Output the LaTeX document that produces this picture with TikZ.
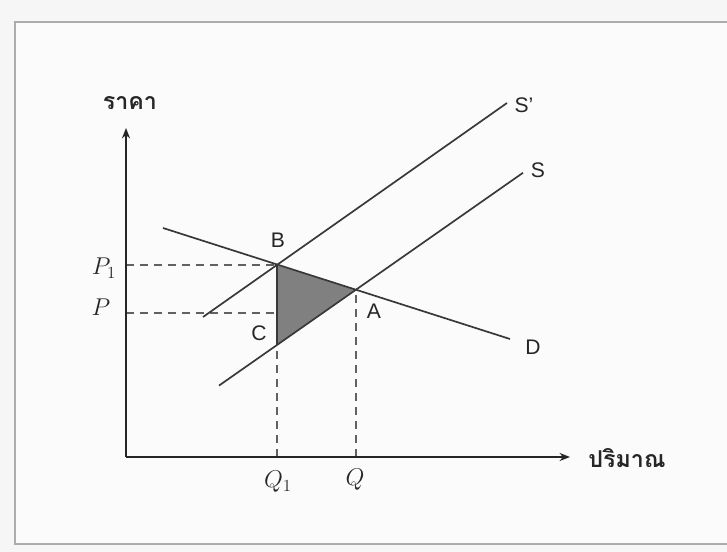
\documentclass[tikz,border=0pt]{standalone}
\usepackage{fontspec}
\setsansfont{Liberation Sans}
\newfontfamily\thaifont[Script=Thai]{Loma}
\usetikzlibrary{arrows.meta}

\begin{document}
\begin{tikzpicture}[
axis/.style={-{Stealth[length=2.6mm,width=2mm]}, line width=1.5pt, draw=black!85},
curve/.style={line width=1.2pt, draw=black!78},
guide/.style={dash pattern=on 0.2cm off 0.15cm, line width=1.1pt, draw=black!62},
pt/.style={font=\sffamily\fontsize{15}{17}\selectfont, text=black!85},
val/.style={font=\fontsize{18}{20}\selectfont, text=black!85},
thai/.style={font=\thaifont\bfseries\fontsize{16.5}{18}\selectfont, text=black!85}
]
\useasboundingbox[fill=gray!7] (-3.15,-2.375) rectangle (15.025,11.425);
\draw[gray!65, line width=1.5pt, fill=gray!3] (-2.775,-2.175) rectangle (15.6,10.875);

% points
\coordinate (O) at (0,0);
\coordinate (ytop) at (0,8.225);
\coordinate (xend) at (11.1,0);
\coordinate (B) at (3.775,4.8);
\coordinate (A) at (5.75,4.18);
\coordinate (C) at (3.775,2.8);
\coordinate (S1lo) at (1.925,3.5);
\coordinate (S1hi) at (9.525,8.85);
\coordinate (Slo) at (2.325,1.785);
\coordinate (Shi) at (9.925,7.105);
\coordinate (Dhi) at (0.925,5.725);
\coordinate (Dlo) at (9.6,2.95);
\coordinate (P1y) at (0,4.8);
\coordinate (Py) at (0,3.6);
\coordinate (Pc) at (3.775,3.6);
\coordinate (Q1x) at (3.775,0);
\coordinate (Qx) at (5.75,0);

% shaded triangle
\fill[black!50] (B) -- (A) -- (C) -- cycle;

% guides
\draw[guide] (P1y) -- (B);
\draw[guide] (Py) -- (Pc);
\draw[guide] (Q1x) -- (C);
\draw[guide] (Qx) -- (A);

% curves
\draw[curve] (S1lo) -- (S1hi);
\draw[curve] (Slo) -- (Shi);
\draw[curve] (Dhi) -- (Dlo);
\draw[curve] (B) -- (C);

% axes
\draw[axis] (O) -- (ytop);
\draw[axis] (O) -- (xend);

% labels
\node[thai] (price) at (0.1,8.85) {ราคา};
\node[thai] (qty) at (12.525,-0.03) {ปริมาณ};
\node[pt] (lblS1) at (9.95,8.8) {S'};
\node[pt] (lblS) at (10.3,7.175) {S};
\node[pt] (lblD) at (10.175,2.75) {D};
\node[pt] (lblB) at (3.8,5.425) {B};
\node[pt] (lblA) at (6.2,3.65) {A};
\node[pt] (lblC) at (3.325,3.1) {C};
\node[val] (lblP1) at (-0.55,4.725) {$P_1$};
\node[val] (lblP) at (-0.625,3.75) {$P$};
\node[val] (lblQ1) at (3.8,-0.625) {$Q_1$};
\node[val] (lblQ) at (5.725,-0.575) {$Q$};

\end{tikzpicture}
\end{document}
